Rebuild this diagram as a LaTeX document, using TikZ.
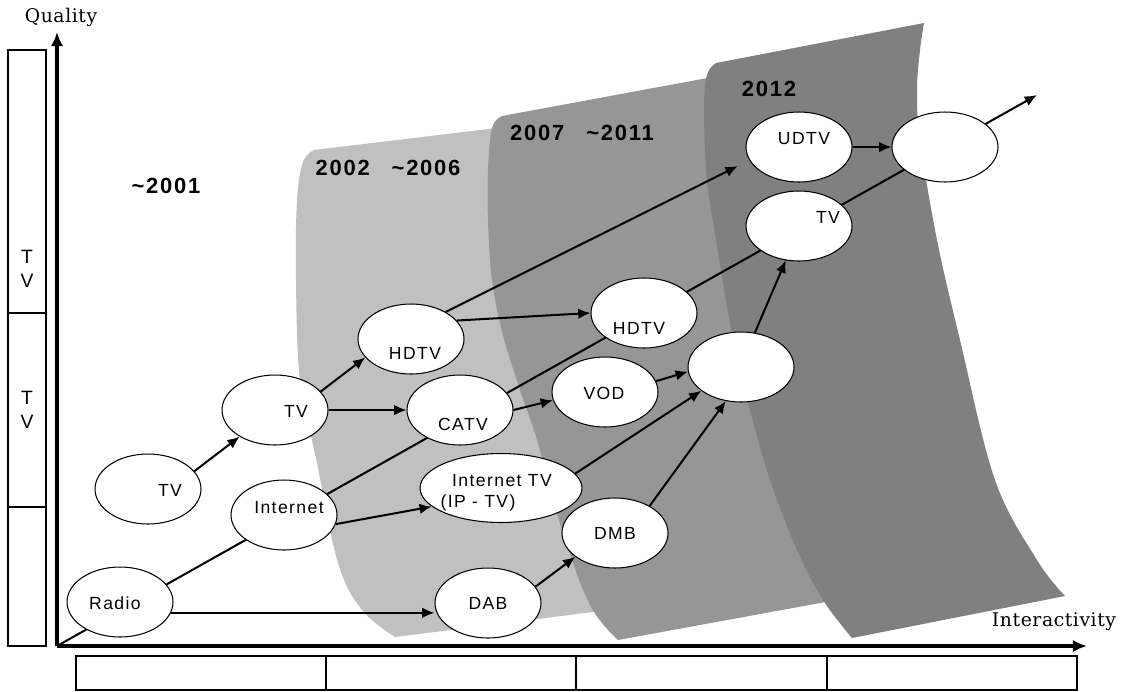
\documentclass[tikz,border=0pt]{standalone}
\usepackage{fontspec}
\setmainfont{Liberation Sans}
\newfontfamily\labfont[LetterSpace=8]{Liberation Sans}
\newfontfamily\axfont[LetterSpace=3]{DejaVu Serif}
\usetikzlibrary{shapes.geometric,arrows.meta}
\definecolor{bandA}{gray}{0.753}
\definecolor{bandB}{gray}{0.588}
\definecolor{bandC}{gray}{0.502}

\begin{document}
\begin{tikzpicture}[x=0.02cm,y=-0.02cm,>={Latex[length=7pt,width=6pt]},
  oval/.style={ellipse,draw,fill=white,line width=0.6pt,minimum width=2.12cm,minimum height=1.4cm,inner sep=0pt},
  lbl/.style={font=\labfont\fontsize{10}{12}\selectfont,inner sep=0pt},
  year/.style={font=\labfont\bfseries\fontsize{12.5}{14}\selectfont,inner sep=0pt},
  axlbl/.style={font=\axfont\fontsize{10.7}{12}\selectfont,inner sep=0pt},
  link/.style={line width=1.15pt},
  box/.style={draw,line width=0.6pt}]
\useasboundingbox (0,0) rectangle (1125,691);

% periods
\fill[bandA] (530,124) -- plot[smooth,tension=0.6] coordinates {(314,150) (303,162) (297,200) (296,280) (300,380) (317,463) (338,563) (362,610) (395,637)}
  -- (640,606) -- (600,560) -- (540,330) -- (520,150) -- cycle;
\fill[bandB] (740,72) -- plot[smooth,tension=0.6] coordinates {(502,116) (492,128) (488,170) (488,220) (492,280) (503,335) (520,390) (537,440) (562,530) (590,605) (618,640)}
  -- (853,597) -- (827,550) -- (800,480) -- (780,410) -- (760,340) -- (743,240) -- (733,107) -- cycle;
\fill[bandC] (924,23) -- plot[smooth,tension=0.6] coordinates {(716,63) (707,75) (704,110) (707,180) (716,240) (733,340) (750,410) (770,480) (797,550) (823,600) (852,638)}
  -- plot[smooth,tension=0.6] coordinates {(1065,596) (1037,560) (995,480) (960,340) (937,240) (920,140) (917,90) (920,50) (924,23)} -- cycle;

\node[year] at (166,186) {\textasciitilde 2001};
\node[year] at (388,168) {2002\quad\textasciitilde 2006};
\node[year] at (582,133) {2007\quad\textasciitilde 2011};
\node[year] at (769,89) {2012};

% axes
\coordinate (O) at (57,646);
\coordinate (qtip) at (57,32);
\coordinate (itip) at (1087,646);
\draw[line width=2pt,->,>={Latex[length=8pt,width=7pt]}] (O) -- (qtip);
\draw[line width=2pt,->,>={Latex[length=8pt,width=7pt]}] (O) -- (itip);
\node[axlbl] at (61,17) {Quality};
\node[axlbl] at (1054,622) {Interactivity};

% side boxes
\draw[box] (8,50) rectangle (46,313);
\draw[box] (8,313) rectangle (46,507);
\draw[box] (8,507) rectangle (46,646);
\node[lbl,font=\labfont\fontsize{11}{14}\selectfont,align=center] at (27,269) {T\\V};
\node[lbl,font=\labfont\fontsize{11}{14}\selectfont,align=center] at (27,410) {T\\V};

% bottom boxes
\foreach \a/\b in {76/326,326/576,576/827,827/1077}
  \draw[box] (\a,656) rectangle (\b,690);

% trend
\coordinate (trend) at (1037,95);
\draw[link,->] (O) -- (trend);

% media
\node[oval] (radio) at (120,602) {};
\node[oval] (tvA) at (148,489) {};
\node[oval] (tvB) at (275,410) {};
\node[oval] (inet) at (284,515) {};
\node[oval] (hdA) at (411,339) {};
\node[oval] (catv) at (460,410) {};
\node[oval] (hdB) at (644,313) {};
\node[oval] (vod) at (605,392) {};
\node[oval,minimum width=3.24cm,minimum height=1.38cm] (iptv) at (501,488) {};
\node[oval] (dmb) at (615,533) {};
\node[oval] (dab) at (488,603) {};
\node[oval] (merge) at (741,367) {};
\node[oval] (udtv) at (799,147) {};
\node[oval] (tvC) at (799,226) {};
\node[oval] (future) at (945,147) {};

\node[lbl] at (115,603) {Radio};
\node[lbl] at (170,490) {TV};
\node[lbl] at (296,411) {TV};
\node[lbl] at (289,508) {Internet};
\node[lbl] at (415,353) {HDTV};
\node[lbl] at (463,424) {CATV};
\node[lbl] at (639,328) {HDTV};
\node[lbl] at (604,393) {VOD};
\node[lbl] at (502,481) {Internet TV};
\node[lbl] at (478,503) {(IP - TV)};
\node[lbl] at (615,533) {DMB};
\node[lbl] at (488,603) {DAB};
\node[lbl] at (804,139) {UDTV};
\node[lbl] at (828,217) {TV};

% links
\draw[link,->] (radio.-12) -- (radio.-12 -| dab.west);
\draw[link,->] (tvA.21) -- (tvB.217);
\draw[link,->] (tvB.22) -- (hdA.202);
\draw[link,->] (tvB.east) -- (catv.west);
\draw[link,->,shorten >=0.26cm] (hdA.38) -- (udtv.195);
\draw[link,->] (hdA.22) -- (hdB.west);
\draw[link,->] (inet.-10) -- (iptv.195);
\draw[link,->] (catv.east) -- (vod.189);
\draw[link,->] (vod.12) -- (merge.185);
\draw[link,->] (iptv.11) -- (merge.211);
\draw[link,->] (dab.19) -- (dmb.211);
\draw[link,->] (dmb.38) -- (merge.246);
\draw[link,->] (merge.68) -- (tvC.249);
\draw[link,->] (udtv.east) -- (future.west);
\end{tikzpicture}
\end{document}
